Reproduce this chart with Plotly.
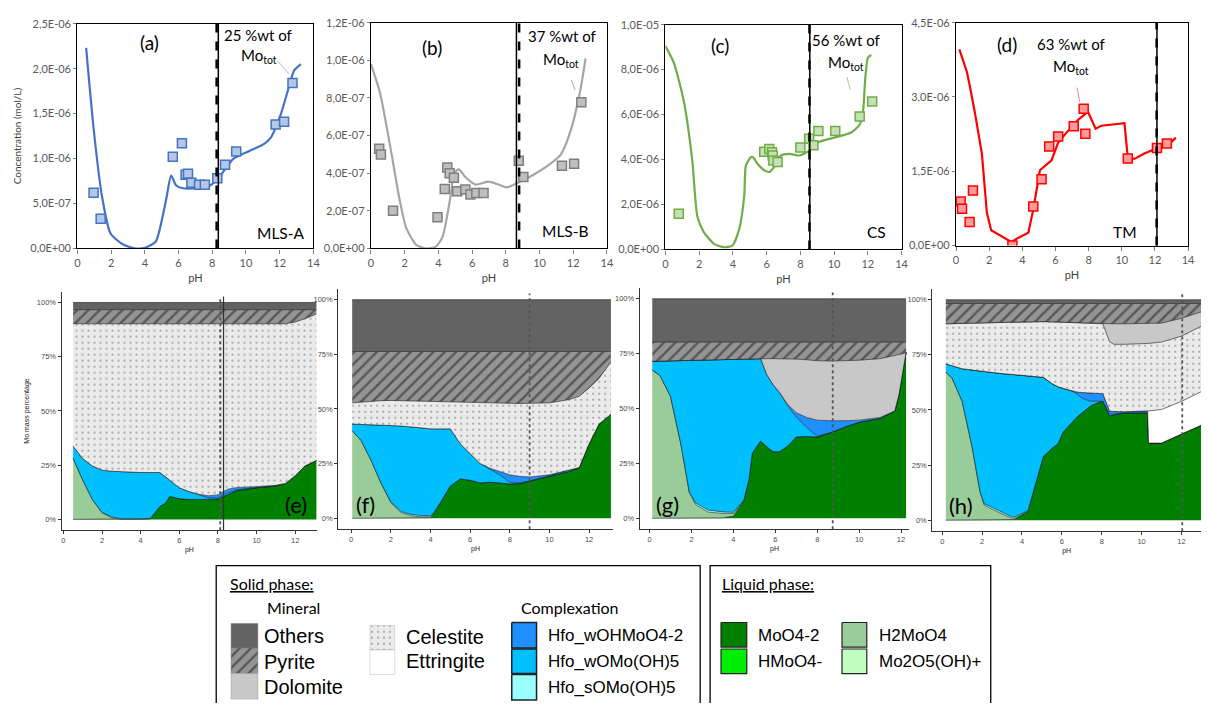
import plotly.graph_objects as go
import numpy as np

W, H = 1208, 709

# ---------------- top panels: total dissolved Mo (values x 1e-6 mol/L) ----------------
a_line_ph = [0.52, 0.96, 1.46, 1.96, 2.66, 3.46, 4.06, 4.66, 5.26, 5.56, 5.86, 6.26, 7.06, 7.86, 8.36, 9.26, 10.26, 11.06, 11.46, 12.06, 12.46, 12.86, 13.26]
a_line_c = [2.23, 1.34, 0.58, 0.17, 0.05, 0.0, 0.01, 0.08, 0.54, 0.81, 0.70, 0.67, 0.67, 0.70, 0.78, 1.00, 1.09, 1.16, 1.23, 1.49, 1.74, 1.98, 2.05]
a_pts_ph = [0.96, 1.38, 5.66, 6.2, 6.42, 6.56, 6.76, 7.22, 7.56, 8.3, 8.76, 9.42, 11.76, 12.26, 12.76]
a_pts_c = [0.62, 0.33, 1.02, 1.17, 0.82, 0.83, 0.73, 0.71, 0.71, 0.78, 0.93, 1.08, 1.38, 1.41, 1.84]

b_line_ph = [0, 0.53, 1.11, 1.7, 2.09, 2.68, 3.26, 3.85, 4.24, 4.73, 4.92, 5.21, 5.6, 6.19, 6.97, 7.56, 8.05, 8.73, 9.51, 10.49, 11.27, 11.86, 12.44, 12.73]
b_line_c = [0.98, 0.83, 0.56, 0.26, 0.11, 0.02, 0.0, 0.01, 0.06, 0.28, 0.40, 0.42, 0.38, 0.34, 0.355, 0.34, 0.325, 0.35, 0.385, 0.44, 0.50, 0.63, 0.85, 1.01]
b_pts_ph = [0.49, 0.59, 1.31, 3.95, 4.38, 4.53, 4.67, 4.92, 5.12, 5.6, 5.9, 6.25, 6.68, 8.77, 9.04, 11.33, 12.05, 12.48]
b_pts_c = [0.53, 0.50, 0.20, 0.166, 0.316, 0.43, 0.40, 0.376, 0.304, 0.313, 0.287, 0.295, 0.295, 0.466, 0.38, 0.44, 0.45, 0.777]

c_line_ph = [0, 0.5, 1.09, 1.59, 1.89, 2.28, 2.88, 3.47, 3.97, 4.37, 4.67, 4.77, 5.06, 5.2, 5.46, 5.86, 6.16, 6.45, 6.85, 7.35, 7.94, 8.54, 9.04, 10.03, 11.02, 11.52, 11.72, 11.85, 12.01, 12.21]
c_line_c = [9.05, 8.3, 6.58, 3.96, 1.48, 0.76, 0.25, 0.10, 0.17, 0.9, 2.36, 3.74, 4.1, 4.1, 3.81, 3.52, 3.45, 3.67, 4.18, 4.25, 4.18, 4.4, 4.76, 4.98, 5.2, 5.56, 6.14, 7.6, 8.54, 8.65]
c_pts_ph = [0.79, 5.86, 6.16, 6.32, 6.36, 6.4, 6.65, 8.0, 8.52, 8.77, 9.07, 10.07, 11.52, 12.26]
c_pts_c = [1.59, 4.35, 4.47, 4.32, 4.18, 3.96, 3.89, 4.54, 4.93, 4.64, 5.27, 5.27, 5.91, 6.58]

d_line_ph = [0.2, 0.66, 0.86, 1.16, 1.56, 1.86, 2.12, 3.36, 3.56, 4.36, 4.66, 5.06, 5.76, 6.16, 6.56, 7.36, 7.96, 8.42, 8.76, 10.16, 10.36, 10.76, 11.36, 12.16, 12.96, 13.26]
d_line_c = [3.96, 3.5, 3.17, 2.64, 1.85, 0.66, 0.31, 0.066, 0.12, 0.26, 0.73, 1.52, 1.72, 2.08, 2.24, 2.54, 2.7, 2.36, 2.42, 2.47, 1.78, 1.75, 1.86, 1.97, 2.08, 2.18]
d_pts_ph = [0.28, 0.36, 0.82, 1.02, 3.4, 4.66, 5.16, 5.62, 6.16, 7.1, 7.7, 7.8, 10.36, 12.12, 12.72]
d_pts_c = [0.89, 0.745, 0.475, 1.11, 0.0, 0.79, 1.34, 2.0, 2.2, 2.41, 2.76, 2.26, 1.76, 1.97, 2.06]

top_vline_solid = [8.36, 8.63, 8.56, 12.12]
top_vline_dash = [8.26, 8.79, 8.54, 12.10]

top_xticks = [0, 2, 4, 6, 8, 10, 12, 14]
a_yticks = [0, 0.5, 1.0, 1.5, 2.0, 2.5]
a_yticktext = ["0,0E+00", "5,0E-07", "1,0E-06", "1,5E-06", "2,0E-06", "2,5E-06"]
b_yticks = [0, 0.2, 0.4, 0.6, 0.8, 1.0, 1.2]
b_yticktext = ["0,0E+00", "2,0E-07", "4,0E-07", "6,0E-07", "8,0E-07", "1,0E-06", "1,2E-06"]
c_yticks = [0, 2, 4, 6, 8, 10]
c_yticktext = ["0,0E+00", "2,0E-06", "4,0E-06", "6,0E-06", "8,0E-06", "1,0E-05"]
d_yticks = [0, 1.5, 3.0, 4.5]
d_yticktext = ["0,0E+00", "1,5E-06", "3,0E-06", "4,5E-06"]

# ---------------- bottom panels: Mo mass percentage per species ----------------
e_ph = [0.5, 1, 1.5, 2, 2.5, 3, 4, 4.5, 5, 5.3, 5.5, 6, 6.5, 7, 7.5, 8, 8.5, 9, 10, 11, 11.5, 12, 12.5, 13.1]
e_moo4 = [0, 0, 0, 0, 0, 0, 0, 0.3, 6.0, 7.5, 10.6, 9.5, 9.2, 9.1, 9.2, 9.4, 11.5, 13.3, 14.6, 15.4, 16.6, 20.1, 24.6, 27.2]
e_h2moo4 = [28.2, 18.1, 9.1, 3.0, 0.8] + [0] * 19
e_hfo_s = [0, 0, 0, 0.2, 0.3, 0.3, 0.3, 0.2] + [0] * 16
e_hfo_w = [5.5, 9.9, 15.5, 19.5, 21.1, 21.6, 21.3, 21.1, 15.6, 12.0, 7.5, 5.1, 3.6, 2.2, 0.7, 0.4, 0.6, 0.4, 0.2, 0.3, 0, 0, 0, 0]
e_hfo_woh = [0] * 13 + [0.3, 1.0, 1.5, 1.8, 1.0, 0.3, 0, 0, 0, 0, 0]
e_cele = [56.5, 62.2, 65.6, 67.5, 68.0, 68.3, 68.6, 68.6, 68.6, 70.7, 72.1, 75.6, 77.4, 78.6, 79.3, 78.9, 76.3, 75.5, 75.1, 74.5, 73.6, 70.9, 67.9, 67.5]
e_pyr = [6.5] * 21 + [5.7, 4.2, 2.0]
e_oth = [3.3] * 24

f_ph = [0.05, 0.5, 1, 1.5, 2, 2.5, 3, 3.5, 4, 4.2, 4.5, 5, 5.5, 6, 6.5, 7, 7.5, 8, 8.5, 9, 10, 11, 11.5, 12, 12.5, 13.1]
f_moo4 = [0, 0, 0, 0, 0, 0, 0, 0, 0.3, 2.7, 7.2, 14.7, 18.0, 17.4, 16.2, 16.5, 16.2, 15.7, 15.9, 16.9, 19.2, 21.4, 23.2, 34.1, 43.1, 47.6]
f_h2moo4 = [40.1, 35.6, 26.6, 16.2, 7.2, 2.7, 1.2, 0.7, 0.4, 0.1] + [0] * 16
f_hfo_s = [0, 0, 0, 0, 0.3, 0.5, 0.6, 0.6, 0.5, 0.2] + [0] * 16
f_hfo_w = [3.0, 7.4, 16.2, 26.4, 34.9, 39.0, 40.1, 40.1, 39.7, 37.9, 33.7, 26.2, 16.1, 12.2, 8.9, 5.9, 3.7, 0.7, 0.3, 0.2, 0.2, 0.5, 0, 0, 0, 0]
f_hfo_woh = [0] * 15 + [0.5, 1.5, 3.5, 3.0, 1.8, 0.5, 0, 0, 0, 0, 0]
f_cele = [9.7, 10.2, 10.8, 11.2, 11.5, 11.6, 11.7, 12.0, 12.4, 12.3, 12.2, 12.1, 18.8, 23.2, 27.6, 29.7, 31.1, 32.6, 33.3, 33.7, 32.9, 32.4, 32.6, 25.5, 20.9, 23.9]
f_pyr = [23.5, 23.1, 22.7, 22.5, 22.4, 22.5, 22.7, 22.9, 23.0, 23.1, 23.2, 23.3, 23.4, 23.5, 23.6, 23.7, 23.8, 23.8, 23.8, 23.7, 23.5, 22.0, 20.5, 16.7, 12.3, 4.8]
f_oth = [23.7] * 26

g_ph = [0.13, 0.5, 1, 1.5, 1.9, 2.2, 2.8, 3.5, 4, 4.5, 4.75, 4.9, 5.3, 5.6, 5.9, 6.2, 6.6, 7, 7.5, 8, 8.7, 9.5, 10, 11, 11.7, 11.9, 12.1, 12.24]
g_moo4 = [0, 0, 0, 0, 0, 0, 0, 0.2, 1.0, 8.0, 18.0, 29.5, 35.2, 32.5, 30.3, 30.3, 32.9, 37.0, 37.3, 37.0, 39.2, 42.2, 43.7, 45.5, 48.9, 56.3, 68.3, 75.5]
g_h2moo4 = [67.5, 65.0, 55.5, 33.5, 11.6, 6.2, 2.8, 2.0, 1.2, 0.2] + [0] * 18
g_hfo_s = [0, 0, 0, 0, 0.3, 0.8, 0.9, 0.7, 0.5, 0.1] + [0] * 18
g_hfo_w = [4.0, 6.6, 16.2, 38.3, 60.0, 64.9, 68.3, 69.3, 69.7, 64.2, 54.5, 43.1, 37.5, 32.8, 30.5, 27.0, 18.3, 9.1, 4.1, 0.3, 0, 0, 0, 0, 0, 0, 0, 0]
g_hfo_woh = [0] * 16 + [0.5, 2.0, 4.5, 7.4, 5.2, 2.3, 1.0, 0.4, 0, 0, 0, 0]
g_dolo = [0] * 13 + [7.4, 11.9, 15.4, 21.0, 24.4, 26.3, 27.1, 27.2, 27.3, 27.3, 26.8, 25.1, 18.2, 6.7, 0]
g_pyr = [8.7, 8.6, 8.5, 8.4, 8.3, 8.3, 8.2, 8.0, 7.8, 7.7, 7.7, 7.6, 7.5, 7.5, 7.5, 7.5, 7.5, 7.7, 8.0, 8.4, 8.6, 8.4, 8.2, 7.5, 6.2, 5.7, 5.2, 4.7]
g_oth = [19.8] * 28

h_ph = [0.18, 0.5, 1, 1.5, 1.9, 2.1, 2.5, 3, 3.4, 3.6, 4.3, 5.07, 5.5, 5.81, 6.06, 6.5, 6.73, 7, 7.39, 7.5, 8, 8.06, 8.39, 8.6, 9.2, 10.13, 10.3, 10.35, 11, 12, 13.1]
h_moo4 = [0, 0, 0, 0, 0, 0, 0, 0, 0, 0.3, 4.0, 28.8, 32.5, 34.7, 39.9, 44.2, 46.5, 48.6, 51.7, 52.2, 53.9, 53.9, 47.3, 47.8, 48.7, 48.7, 48.7, 35.0, 35.0, 39.1, 43.5]
h_h2moo4 = [67.2, 64.3, 53.9, 33.2, 12.6, 6.9, 5.0, 2.8, 1.2, 0.5] + [0] * 21
h_hfo_s = [0, 0, 0, 0, 0.3, 0.6, 0.8, 0.8, 0.7, 0.6, 0.3] + [0] * 20
h_hfo_w = [3.7, 5.7, 14.8, 34.9, 54.7, 59.9, 61.2, 62.9, 64.3, 64.6, 61.2, 36.0, 29.5, 25.8, 19.9, 14.4, 10.9, 6.9, 2.3, 1.8, 0, 0, 0.7, 0.5, 0, 0, 0, 0, 0, 0, 0]
h_hfo_woh = [0] * 16 + [0.8, 2.4, 3.8, 3.7, 3.7, 3.5, 1.5, 1.0, 0.5, 0.8, 0.9, 0, 0, 0, 0]
h_ettr = [0] * 27 + [14.6, 15.2, 14.8, 15.3]
h_cele = [18.2, 19.2, 20.6, 21.3, 21.9, 22.1, 22.6, 23.2, 23.6, 23.8, 24.5, 25.3, 28.0, 29.4, 30.0, 31.0, 31.3, 31.5, 31.5, 31.5, 31.5, 31.7, 31.5, 30.5, 30.6, 30.5, 30.5, 30.6, 30.6, 29.6, 29.7]
h_dolo = [0] * 22 + [8.1, 9.3, 9.3, 9.1, 9.0, 8.9, 8.6, 8.1, 6.3]
h_pyr = [9.2, 9.1, 9.0, 8.9, 8.8, 8.8, 8.7, 8.6, 8.5, 8.5, 8.3, 8.2, 8.3, 8.4, 8.5, 8.7, 8.8, 8.9, 9.0, 9.1, 9.2, 9.2, 9.2, 9.2, 9.2, 9.2, 9.2, 9.2, 8.9, 6.7, 3.5]
h_oth = [1.7] * 31

bottom_vlines = {"e": [(8.12, "dot"), (8.29, "solid")], "f": [(9.0, "dot")], "g": [(8.74, "dot")], "h": [(12.04, "dot")]}
pct_ticks = [0, 25, 50, 75, 100]
pct_ticktext = ["0%", "25%", "50%", "75%", "100%"]
bottom_xticks = [0, 2, 4, 6, 8, 10, 12]

# ---------------- styles ----------------
HATCH = dict(shape="/", bgcolor="#949494", fgcolor="#1a1a1a", size=8, solidity=0.3)
DOTS = dict(shape=".", bgcolor="#EBEBEB", fgcolor="#444444", size=6, solidity=0.09)
STYLE = {
    "MoO4-2": dict(fillcolor="#008000"),
    "HMoO4-": dict(fillcolor="#00EE00"),
    "H2MoO4": dict(fillcolor="#99CC99"),
    "Mo2O5(OH)+": dict(fillcolor="#C1FFC1"),
    "Hfo_sOMo(OH)5": dict(fillcolor="#99FFFF"),
    "Hfo_wOMo(OH)5": dict(fillcolor="#00BFFF"),
    "Hfo_wOHMoO4-2": dict(fillcolor="#1E90FF"),
    "Ettringite": dict(fillcolor="#FFFFFF"),
    "Celestite": dict(fillcolor="#EBEBEB", fillpattern=DOTS),
    "Dolomite": dict(fillcolor="#C8C8C8"),
    "Pyrite": dict(fillcolor="#949494", fillpattern=HATCH),
    "Others": dict(fillcolor="#636363"),
}

TOPF = "Lato"
GGF = "Liberation Sans"


def dx(l, r):
    return [l / W, r / W]


def dy(t, b):
    return [1 - b / H, 1 - t / H]


def names(i):
    s = "" if i == 1 else str(i)
    return "x" + s, "y" + s, "xaxis" + s, "yaxis" + s


fig = go.Figure()
layout = dict(width=W, height=H, margin=dict(l=0, r=0, t=0, b=0), autosize=False,
              paper_bgcolor="white", plot_bgcolor="white", showlegend=False)
annotations = []
shapes = []

top_specs = [
    dict(xpx=(75, 313), ypx=(17, 246), lph=a_line_ph, lc=a_line_c, pph=a_pts_ph, pc=a_pts_c, ymax=2.5,
         ytv=a_yticks, ytt=a_yticktext, col="#4472C4", mfill="#B4C7E7", mline="#4472C4", lead="#9DC3E6",
         shape="spline", texts=[("(a)", 4.26, 2.29, 19), ("25 %wt of", 10.76, 2.37, 15), ("Mo<sub>tot</sub>", 10.76, 2.14, 15), ("MLS-A", 12.06, 0.175, 15.5)],
         leader=((11.86, 2.09), (12.56, 1.94)), ytitle="Concentration (mol/L)"),
    dict(xpx=(371, 609), ypx=(16, 246), lph=b_line_ph, lc=b_line_c, pph=b_pts_ph, pc=b_pts_c, ymax=1.2,
         ytv=b_yticks, ytt=b_yticktext, col="#A5A5A5", mfill="#BFBFBF", mline="#7F7F7F", lead="#A5A5A5",
         shape="spline", texts=[("(b)", 3.65, 1.067, 19), ("37 %wt of", 11.37, 1.131, 15), ("Mo<sub>tot</sub>", 11.27, 1.0, 15), ("MLS-B", 11.56, 0.095, 15.5)],
         leader=((11.89, 0.895), (12.11, 0.843)), ytitle=None),
    dict(xpx=(668, 906), ypx=(18, 247), lph=c_line_ph, lc=c_line_c, pph=c_pts_ph, pc=c_pts_c, ymax=10,
         ytv=c_yticks, ytt=c_yticktext, col="#70AD47", mfill="#C5E0B4", mline="#70AD47", lead="#A9D18E",
         shape="spline", texts=[("(c)", 3.24, 9.08, 19), ("56 %wt of", 10.76, 9.30, 15), ("Mo<sub>tot</sub>", 10.72, 8.3, 15), ("CS", 12.51, 0.76, 15.5)],
         leader=((10.76, 7.67), (10.96, 7.09)), ytitle=None),
    dict(xpx=(961, 1195), ypx=(16, 243), lph=d_line_ph, lc=d_line_c, pph=d_pts_ph, pc=d_pts_c, ymax=4.5,
         ytv=d_yticks, ytt=d_yticktext, col="#FF0000", mfill="#FF9B9B", mline="#FF0000", lead="#FF7C80",
         shape="linear", texts=[("(d)", 3.06, 4.06, 19), ("63 %wt of", 6.96, 4.06, 15), ("Mo<sub>tot</sub>", 6.96, 3.6, 15), ("TM", 10.22, 0.28, 15.5)],
         leader=((7.3, 3.19), (7.46, 2.9)), ytitle=None),
]

for k, sp in enumerate(top_specs):
    i = k + 1
    xn, yn, xk, yk = names(i)
    fig.add_trace(go.Scatter(x=sp["lph"], y=np.array(sp["lc"]) * 1e-6, mode="lines",
                             line=dict(color=sp["col"], width=2.2, shape=sp["shape"], smoothing=0.6),
                             xaxis=xn, yaxis=yn, hoverinfo="skip"))
    fig.add_trace(go.Scatter(x=sp["pph"], y=np.array(sp["pc"]) * 1e-6, mode="markers",
                             marker=dict(symbol="square", size=9, color=sp["mfill"], line=dict(color=sp["mline"], width=1.5)),
                             xaxis=xn, yaxis=yn, hoverinfo="skip"))
    layout[xk] = dict(domain=dx(*sp["xpx"]), anchor=yn, range=[0, 14], tickvals=top_xticks,
                      showline=True, mirror=True, linecolor="black", linewidth=1.3, ticks="outside",
                      ticklen=4, tickcolor="#7F7F7F", showgrid=False, zeroline=False,
                      tickfont=dict(family=TOPF, size=11, color="#595959"),
                      title=dict(text="pH", font=dict(family=TOPF, size=11, color="#404040"), standoff=6))
    ya = dict(domain=dy(*sp["ypx"]), anchor=xn, range=[0, sp["ymax"] * 1e-6],
              tickvals=[v * 1e-6 for v in sp["ytv"]], ticktext=sp["ytt"],
              showline=True, mirror=True, linecolor="black", linewidth=1.3, ticks="outside",
              ticklen=3, tickcolor="#7F7F7F", showgrid=False, zeroline=False,
              tickfont=dict(family=TOPF, size=11, color="#595959"))
    if sp["ytitle"]:
        ya["title"] = dict(text=sp["ytitle"], font=dict(family=TOPF, size=10, color="#404040"), standoff=6)
    layout[yk] = ya
    for txt, xx, yy, fs in sp["texts"]:
        annotations.append(dict(text=txt, x=xx, y=yy * 1e-6, xref=xn, yref=yn, showarrow=False,
                                font=dict(family=TOPF, size=fs, color="black")))
    (x0, y0), (x1, y1) = sp["leader"]
    shapes.append(dict(type="line", xref=xn, yref=yn, x0=x0, y0=y0 * 1e-6, x1=x1, y1=y1 * 1e-6,
                       line=dict(color=sp["lead"], width=1)))
    shapes.append(dict(type="line", xref=xn, yref=yn + " domain", x0=top_vline_solid[k], x1=top_vline_solid[k],
                       y0=0, y1=1, line=dict(color="black", width=1.5)))
    shapes.append(dict(type="line", xref=xn, yref=yn + " domain", x0=top_vline_dash[k], x1=top_vline_dash[k],
                       y0=0, y1=1, line=dict(color="black", width=2.5, dash="dash")))

ORDER = ["MoO4-2", "HMoO4-", "H2MoO4", "Mo2O5(OH)+", "Hfo_sOMo(OH)5", "Hfo_wOMo(OH)5", "Hfo_wOHMoO4-2",
         "Ettringite", "Celestite", "Dolomite", "Pyrite", "Others"]

bottom_specs = [
    dict(key="e", xpx=(59, 317), ypx=(290, 533), xr=[-0.1, 13.15], ph=e_ph,
         layers={"MoO4-2": e_moo4, "H2MoO4": e_h2moo4, "Hfo_sOMo(OH)5": e_hfo_s, "Hfo_wOMo(OH)5": e_hfo_w,
                 "Hfo_wOHMoO4-2": e_hfo_woh, "Celestite": e_cele, "Pyrite": e_pyr, "Others": e_oth},
         label=("(e)", 12.05, 6.8), ytitle="Mo mass percentage"),
    dict(key="f", xpx=(338, 615), ypx=(287, 532), xr=[-0.655, 13.2], ph=f_ph,
         layers={"MoO4-2": f_moo4, "H2MoO4": f_h2moo4, "Hfo_sOMo(OH)5": f_hfo_s, "Hfo_wOMo(OH)5": f_hfo_w,
                 "Hfo_wOHMoO4-2": f_hfo_woh, "Celestite": f_cele, "Pyrite": f_pyr, "Others": f_oth},
         label=("(f)", 0.7, 6.4), ytitle=None),
    dict(key="g", xpx=(642, 914), ypx=(286, 532), xr=[-0.47, 12.4], ph=g_ph,
         layers={"MoO4-2": g_moo4, "H2MoO4": g_h2moo4, "Hfo_sOMo(OH)5": g_hfo_s, "Hfo_wOMo(OH)5": g_hfo_w,
                 "Hfo_wOHMoO4-2": g_hfo_woh, "Dolomite": g_dolo, "Pyrite": g_pyr, "Others": g_oth},
         label=("(g)", 0.84, 6.4), ytitle=None),
    dict(key="h", xpx=(937, 1208), ypx=(287, 534), xr=[-0.5, 12.98], ph=h_ph,
         layers={"MoO4-2": h_moo4, "H2MoO4": h_h2moo4, "Hfo_sOMo(OH)5": h_hfo_s, "Hfo_wOMo(OH)5": h_hfo_w,
                 "Hfo_wOHMoO4-2": h_hfo_woh, "Ettringite": h_ettr, "Celestite": h_cele, "Dolomite": h_dolo,
                 "Pyrite": h_pyr, "Others": h_oth},
         label=("(h)", 0.95, 6.6), ytitle=None),
]

for k, sp in enumerate(bottom_specs):
    i = k + 5
    xn, yn, xk, yk = names(i)
    for sname in ORDER:
        if sname not in sp["layers"]:
            continue
        st = STYLE[sname]
        kw = dict(fillcolor=st["fillcolor"])
        if "fillpattern" in st:
            kw["fillpattern"] = st["fillpattern"]
        fig.add_trace(go.Scatter(x=sp["ph"], y=sp["layers"][sname], stackgroup=sp["key"], mode="lines",
                                 line=dict(color="#1a1a1a", width=0.6), xaxis=xn, yaxis=yn,
                                 hoverinfo="skip", name=sname, **kw))
    layout[xk] = dict(domain=dx(*sp["xpx"]), anchor=yn, range=sp["xr"], tickvals=bottom_xticks,
                      showline=True, linecolor="#333333", linewidth=1, ticks="outside", ticklen=3,
                      tickcolor="#333333", showgrid=False, zeroline=False,
                      tickfont=dict(family=GGF, size=7.5, color="#4D4D4D"),
                      title=dict(text="pH", font=dict(family=GGF, size=7, color="#222222"), standoff=2))
    ya = dict(domain=dy(*sp["ypx"]), anchor=xn, range=[-5, 105], tickvals=pct_ticks, ticktext=pct_ticktext,
              showline=True, linecolor="#333333", linewidth=1, ticks="outside", ticklen=3,
              tickcolor="#333333", showgrid=False, zeroline=False,
              tickfont=dict(family=GGF, size=7.5, color="#4D4D4D"))
    if sp["ytitle"]:
        ya["title"] = dict(text=sp["ytitle"], font=dict(family=GGF, size=7, color="#222222"), standoff=6)
    layout[yk] = ya
    for xv, ds in bottom_vlines[sp["key"]]:
        shapes.append(dict(type="line", xref=xn, yref=yn + " domain", x0=xv, x1=xv, y0=0, y1=0.98,
                           line=dict(color="#555555" if ds == "dot" else "#333333", width=1.8 if ds == "dot" else 1.2, dash=ds)))
    t, lx, ly = sp["label"]
    annotations.append(dict(text=t, x=lx, y=ly, xref=xn, yref=yn, showarrow=False,
                            font=dict(family=TOPF, size=22, color="black")))

# ---------------- legend (drawn on a pixel-coordinate axis) ----------------
layout["xaxis9"] = dict(domain=[0, 1], range=[0, W], visible=False, fixedrange=True, anchor="y9")
layout["yaxis9"] = dict(domain=[0, 149 / H], range=[709, 560], visible=False, fixedrange=True, anchor="x9")

shapes.append(dict(type="rect", xref="x9", yref="y9", x0=215, x1=703, y0=569, y1=720, line=dict(color="black", width=1.3)))
shapes.append(dict(type="rect", xref="x9", yref="y9", x0=713, x1=996, y0=569, y1=720, line=dict(color="black", width=1.3)))


def swatch(x0, x1, y0, y1, sname, border="#333333", bw=1.0):
    st = STYLE[sname]
    kw = dict(fillcolor=st["fillcolor"])
    if "fillpattern" in st:
        kw["fillpattern"] = st["fillpattern"]
    fig.add_trace(go.Scatter(x=[x0, x1, x1, x0, x0], y=[y0, y0, y1, y1, y0], fill="toself", mode="lines",
                             line=dict(color=border, width=bw), xaxis="x9", yaxis="y9", hoverinfo="skip", **kw))


def label(txt, x, y, size, family=GGF, anchor="left"):
    annotations.append(dict(text=txt, x=x, y=y, xref="x9", yref="y9", showarrow=False, xanchor=anchor,
                            yanchor="middle", font=dict(family=family, size=size, color="black")))


label("<u>Solid phase:</u>", 227, 587, 16, TOPF)
label("Mineral", 293, 612, 16, TOPF, "center")
label("Complexation", 572, 612, 16, TOPF, "center")
swatch(230, 257, 628, 653, "Others", "#777777", 0.5)
swatch(230, 257, 653, 679, "Pyrite", "#777777", 0.5)
swatch(230, 257, 679, 705, "Dolomite", "#999999", 0.5)
label("Others", 261, 641, 20)
label("Pyrite", 261, 667, 20)
label("Dolomite", 261, 693, 20)
swatch(370, 395, 630, 655, "Celestite", "#BBBBBB", 0.5)
swatch(370, 395, 655, 680, "Ettringite", "#BBBBBB", 0.5)
label("Celestite", 404, 642, 20)
label("Ettringite", 404, 666, 20)
swatch(513, 538, 627, 653, "Hfo_wOHMoO4-2", "#222222", 1.5)
swatch(513, 538, 654, 679, "Hfo_wOMo(OH)5", "#222222", 1.5)
swatch(513, 538, 680, 706, "Hfo_sOMo(OH)5", "#222222", 1.5)
label("Hfo_wOHMoO4-2", 548, 640, 17)
label("Hfo_wOMo(OH)5", 548, 667, 17)
label("Hfo_sOMo(OH)5", 548, 693, 17)

label("<u>Liquid phase:</u>", 723, 587, 16, TOPF)
swatch(724, 750, 627, 652, "MoO4-2", "#222222", 1.2)
swatch(724, 750, 654, 679, "HMoO4-", "#222222", 1.2)
swatch(846, 871, 627, 652, "H2MoO4", "#222222", 1.2)
swatch(846, 871, 654, 679, "Mo2O5(OH)+", "#222222", 1.2)
label("MoO4-2", 759, 640, 17)
label("HMoO4-", 759, 667, 17)
label("H2MoO4", 881, 640, 17)
label("Mo2O5(OH)+", 881, 667, 17)

layout["annotations"] = annotations
layout["shapes"] = shapes
fig.update_layout(**layout)

fig.write_html("out.html", config={"displayModeBar": False},
               post_script="document.body.style.margin='0px';")
